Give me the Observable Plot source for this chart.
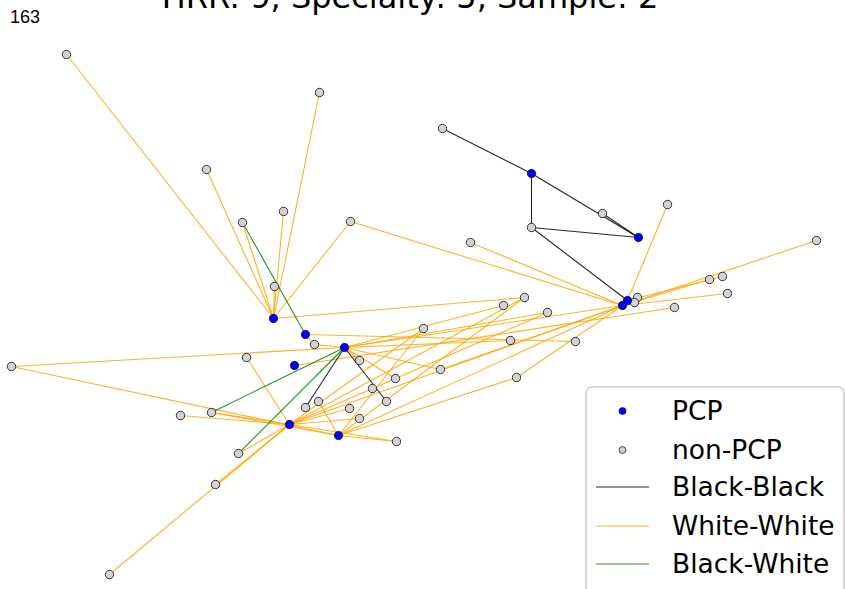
<!DOCTYPE html>
<html><head><meta charset="utf-8">
<script src="https://cdn.jsdelivr.net/npm/d3@7"></script>
<script src="https://cdn.jsdelivr.net/npm/@observablehq/plot@0.6"></script>
<style>
body{margin:0;background:#fff;}
#wrap{position:relative;width:845px;height:589px;overflow:hidden;}
#wrap > svg{position:absolute;left:0;top:0;}
#title{position:absolute;left:0;width:820px;text-align:center;top:-19px;font:32px/32px "DejaVu Sans";color:#000;white-space:nowrap;}
#num{position:absolute;left:10px;top:8px;font:18px/18px "Liberation Sans",Arial;color:#000;}
</style></head><body>
<div id="wrap">
  <div id="chart"></div>
  <div id="title">HRR: 9, Specialty: 5, Sample: 2</div>
  <div id="num">163</div>
</div>
<script>
// Node layout (layout units), type: PCP or non-PCP
const nodeIds = ["P1","P2","P3","P4","P5","P6","P7","P8","P9a","P9b",
  "G1","G2","G3","G4","G5","G6","G7","G8","G9","G10","G11","G12","G13","G14","G15","G16","G17","G18","G19","G20","G21","G22","G23","G24","G25","G26","G27","G28","G29","G30","G31","G32","G33","G34","G35","G36","G37","G38","G39","G40","G41","G42","G43","G44"];
const nodeX = [273,305,344,294,289,338,531,638,622,627,
  66,319,442,206,283,242,350,602,667,531,470,816,709,722,727,637,634,674,524,503,547,274,423,314,510,575,246,11,359,395,372,386,305,318,349,359,211,180,396,238,215,109,440,516];
const nodeY = [318,334,347,365,424,435,173,237,305,300,
  54,92,128,169,211,222,221,213,204,227,242,240,279,276,293,297,302,307,297,305,312,286,328,344,340,341,357,366,360,378,388,401,407,401,408,418,412,415,441,453,484,574,369,377];
const nodeType = nodeIds.map(id => id.startsWith("P") ? "PCP" : "non-PCP");

// Edges
const edgeFrom = [
  "G3","P7","P7","G10","G8","G10","P3","P3",
  "G6","P3","P3",
  "P1","P1","P1","P1","P1","P1","P1","P1",
  "G7","G11","P9b","P9a","P9a","P9b","P9a","P9b","P9a",
  "P4","P2","P2","G24",
  "G28","G28","G38","G37","G37","P5","P6",
  "P5","P5","G42","G40",
  "P5","P5","P5","P5","P5","P5",
  "P6","P6","P6","P6","P6","G44",
  "P3","P3","P3","P3","G43","P3","P3","P3"];
const edgeTo = [
  "P7","P8","G10","P8","P8","P9b","G33","G32",
  "P2","G37","G40",
  "G1","G4","G6","G5","G2","G22","G7","G19",
  "P9a","P9a","G9","G12","G13","G14","G15","G16","G17",
  "G18","G26","G24","P3",
  "P3","P6","P5","P5","P6","G39","G39",
  "G27","G41","P5","P5",
  "G23","G19","G21","P9a","G36","G35",
  "G34","G23","G19","P9a","G44","P9a",
  "G20","P9a","G25","G43","P9a","G29","G30","G21"];
const edgeType = [
  "Black-Black","Black-Black","Black-Black","Black-Black","Black-Black","Black-Black","Black-Black","Black-Black",
  "Black-White","Black-White","Black-White",
  ...Array(edgeFrom.length - 11).fill("White-White")];

const legendLabels = ["PCP","non-PCP","Black-Black","White-White","Black-White"];

const pos = new Map(nodeIds.map((id, i) => [id, [nodeX[i], nodeY[i]]]));
const nodes = nodeIds.map((id, i) => ({id, x: nodeX[i], y: nodeY[i], type: nodeType[i]}));
const drawOrder = {"White-White": 0, "Black-Black": 1, "Black-White": 2};
const edges = edgeFrom.map((f, i) => ({
  x1: pos.get(f)[0], y1: pos.get(f)[1], x2: pos.get(edgeTo[i])[0], y2: pos.get(edgeTo[i])[1], type: edgeType[i]}))
  .sort((a, b) => drawOrder[a.type] - drawOrder[b.type]);

const edgeColor = {"Black-Black": "#000000", "White-White": "#ffa500", "Black-White": "#008000"};
const nodeFill = {"PCP": "#0000ff", "non-PCP": "#d3d3d3"};

const chart = Plot.plot({
  width: 845, height: 589,
  marginTop: 0, marginRight: 0, marginBottom: 0, marginLeft: 0,
  x: {domain: [0, 845], range: [0, 845], axis: null},
  y: {domain: [0, 589], range: [0, 589], axis: null},
  marks: [
    Plot.link(edges, {x1: "x1", y1: "y1", x2: "x2", y2: "y2",
      stroke: d => edgeColor[d.type], strokeWidth: 1.1, strokeOpacity: 0.85}),
    Plot.dot(nodes.filter(d => d.type === "non-PCP"), {x: "x", y: "y", r: 4.2,
      fill: nodeFill["non-PCP"], stroke: "#222", strokeWidth: 0.9}),
    Plot.dot(nodes.filter(d => d.type === "PCP"), {x: "x", y: "y", r: 4.2,
      fill: nodeFill["PCP"], stroke: "#111", strokeWidth: 0.7})
  ]
});
document.getElementById("chart").appendChild(chart);

// Legend (overlay, inside the axes region like the reference)
const lg = d3.select("#wrap").append("svg")
  .attr("width", 845).attr("height", 589)
  .style("position", "absolute").style("left", 0).style("top", 0);
lg.append("rect").attr("x", 586).attr("y", 387).attr("width", 258).attr("height", 230)
  .attr("rx", 6).attr("fill", "#fff").attr("fill-opacity", 0.8)
  .attr("stroke", "#cccccc").attr("stroke-width", 1.6);
const rowY = [411, 450, 487, 526, 564];
legendLabels.forEach((lab, i) => {
  const y = rowY[i];
  if (lab === "PCP") {
    lg.append("circle").attr("cx", 622.5).attr("cy", y).attr("r", 3.6).attr("fill", nodeFill.PCP).attr("stroke", "#111").attr("stroke-width", 0.5);
  } else if (lab === "non-PCP") {
    lg.append("circle").attr("cx", 622.5).attr("cy", y).attr("r", 3.4).attr("fill", nodeFill["non-PCP"]).attr("stroke", "#222").attr("stroke-width", 0.8);
  } else {
    lg.append("line").attr("x1", 596).attr("x2", 649).attr("y1", y).attr("y2", y)
      .attr("stroke", edgeColor[lab]).attr("stroke-opacity", 0.55).attr("stroke-width", 1.3);
  }
  lg.append("text").attr("x", 672).attr("y", y + 8.5).attr("font-family", "DejaVu Sans")
    .attr("font-size", 26.5).attr("fill", "#000").text(lab);
});
</script>
</body></html>
